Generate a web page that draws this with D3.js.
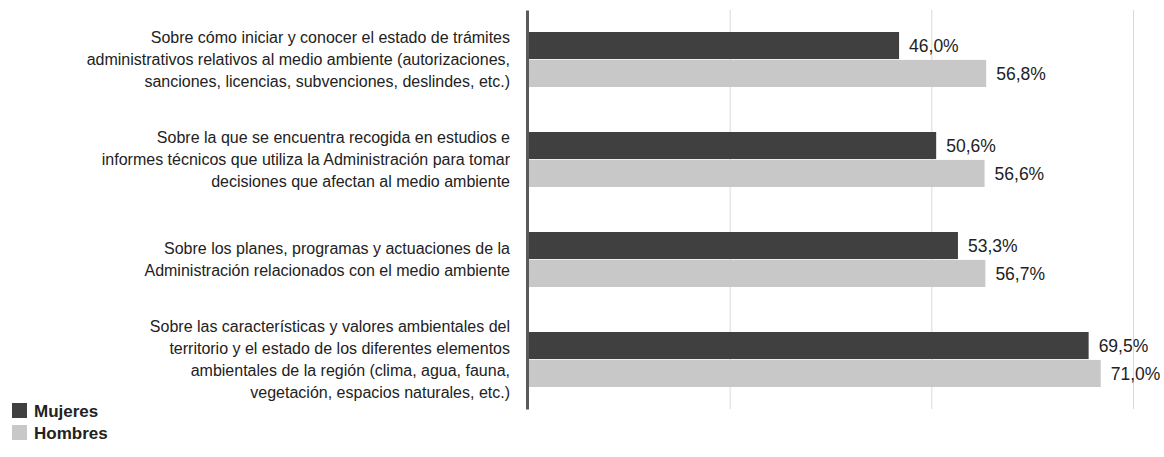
<!DOCTYPE html>
<html>
<head>
<meta charset="utf-8">
<script src="https://cdn.jsdelivr.net/npm/d3@7"></script>
<style>
  body { margin: 0; background: #fff; }
  svg text { font-family: "Liberation Sans", Arial, sans-serif; fill: #222; }
</style>
</head>
<body>
<div id="chart"></div>
<script>
var categories = [
    ['Sobre cómo iniciar y conocer el estado de trámites',
     'administrativos relativos al medio ambiente (autorizaciones,',
     'sanciones, licencias, subvenciones, deslindes, etc.)'],
    ['Sobre la que se encuentra recogida en estudios e',
     'informes técnicos que utiliza la Administración para tomar',
     'decisiones que afectan al medio ambiente'],
    ['Sobre los planes, programas y actuaciones de la',
     'Administración relacionados con el medio ambiente'],
    ['Sobre las características y valores ambientales del',
     'territorio y el estado de los diferentes elementos',
     'ambientales de la región (clima, agua, fauna,',
     'vegetación, espacios naturales, etc.)']
];
var seriesNames = ['Mujeres', 'Hombres'];
var mujeres = [46.0, 50.6, 53.3, 69.5];
var hombres = [56.8, 56.6, 56.7, 71.0];
var gridTicks = [25, 50, 75];
var colors = ['#404040', '#c8c8c8'];

var width = 1164, height = 457;
var plot = {left: 528, right: 1133, top: 10, bottom: 409};

var svg = d3.select('#chart').append('svg')
            .attr('width', width)
            .attr('height', height);

var x = d3.scaleLinear()
          .domain([0, 75])
          .range([plot.left, plot.right]);

var y = d3.scaleBand()
          .domain(d3.range(categories.length))
          .range([plot.top, plot.bottom])
          .paddingInner(0.45)
          .paddingOuter(0.22);

var ySub = d3.scaleBand()
             .domain(seriesNames)
             .range([0, y.bandwidth()])
             .paddingInner(0.03);

// gridlines
svg.append('g')
   .attr('transform', 'translate(0,' + plot.bottom + ')')
   .call(d3.axisBottom(x).tickValues(gridTicks).tickSize(-(plot.bottom - plot.top)).tickFormat(''))
   .call(function(g) {
       g.select('.domain').remove();
       g.selectAll('line').attr('stroke', '#d9d9d9').attr('stroke-width', 1);
   });

var rows = categories.map(function(c, i) {
    return {i: i, values: [mujeres[i], hombres[i]]};
});

var groups = svg.append('g').selectAll('g')
                .data(rows)
                .enter().append('g')
                .attr('transform', function(d) { return 'translate(0,' + y(d.i) + ')'; });

groups.selectAll('rect')
      .data(function(d) { return d.values.map(function(v, k) { return {v: v, s: seriesNames[k], k: k}; }); })
      .enter().append('rect')
      .attr('x', x(0))
      .attr('y', function(d) { return ySub(d.s); })
      .attr('width', function(d) { return x(d.v) - x(0); })
      .attr('height', ySub.bandwidth())
      .attr('fill', function(d) { return colors[d.k]; });

groups.selectAll('text.val')
      .data(function(d) { return d.values.map(function(v, k) { return {v: v, s: seriesNames[k]}; }); })
      .enter().append('text')
      .attr('class', 'val')
      .attr('x', function(d) { return x(d.v) + 10; })
      .attr('y', function(d) { return ySub(d.s) + ySub.bandwidth() / 2; })
      .attr('dy', '0.36em')
      .style('font-size', '17.5px')
      .text(function(d) { return d.v.toFixed(1).replace('.', ',') + '%'; });

// axis line
svg.append('g')
   .attr('transform', 'translate(' + (plot.left - 1) + ',0)')
   .call(d3.axisLeft(d3.scaleLinear().range([plot.top, plot.bottom])).ticks(0).tickSize(0))
   .call(function(g) {
       g.select('.domain').attr('stroke', '#5a5a5a').attr('stroke-width', 3);
   });

// category labels
var lineH = 22;
svg.append('g').selectAll('text')
   .data(categories)
   .enter().append('text')
   .attr('text-anchor', 'end')
   .style('font-size', '16px')
   .attr('transform', function(d, i) {
       return 'translate(510,' + (y(i) + y.bandwidth() / 2 - (d.length - 1) * lineH / 2) + ')';
   })
   .selectAll('tspan')
   .data(function(d) { return d; })
   .enter().append('tspan')
   .attr('x', 0)
   .attr('y', function(d, j) { return j * lineH; })
   .attr('dy', '0.35em')
   .text(function(d) { return d; });

// legend
var legend = svg.append('g').selectAll('g')
                .data(seriesNames)
                .enter().append('g')
                .attr('transform', function(d, i) { return 'translate(12,' + (403 + i * 22) + ')'; });

legend.append('rect')
      .attr('width', 15)
      .attr('height', 15)
      .attr('fill', function(d, i) { return colors[i]; });

legend.append('text')
      .attr('x', 22)
      .attr('y', 7.5)
      .attr('dy', '0.36em')
      .style('font-size', '17px')
      .style('font-weight', 'bold')
      .text(function(d) { return d; });
</script>
</body>
</html>
